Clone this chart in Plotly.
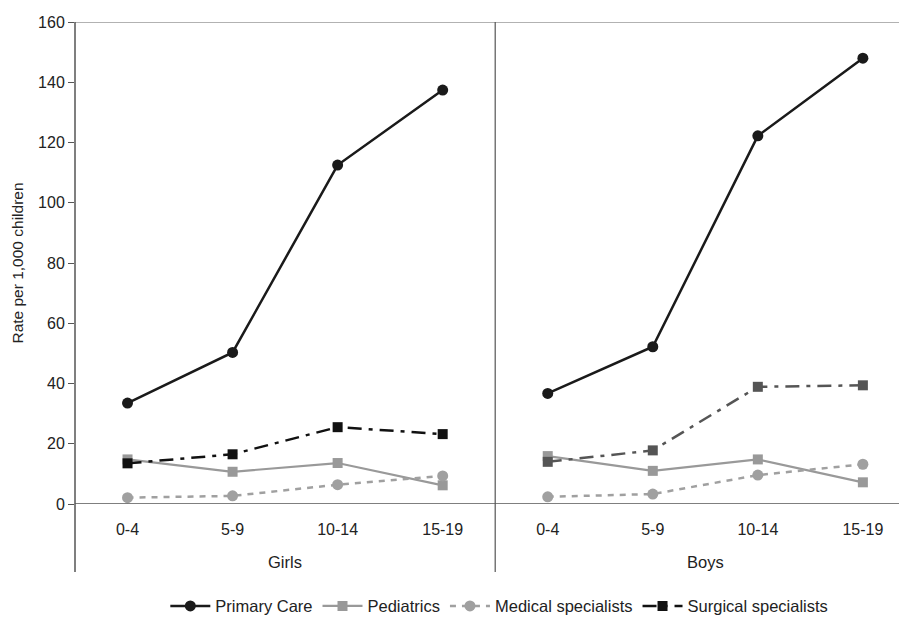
import plotly.graph_objects as go

age_groups = ["0-4", "5-9", "10-14", "15-19"]
sexes = ["Girls", "Boys"]

girls_primary = [33.5, 50.3, 112.5, 137.4]
boys_primary = [36.7, 52.2, 122.2, 148.0]
girls_pediatrics = [14.8, 10.7, 13.6, 6.2]
boys_pediatrics = [15.9, 11.0, 14.8, 7.2]
girls_medical = [2.1, 2.7, 6.4, 9.3]
boys_medical = [2.4, 3.3, 9.6, 13.2]
girls_surgical = [13.5, 16.5, 25.5, 23.2]
boys_surgical = [14.0, 17.8, 38.9, 39.4]

series = [
    ("Primary Care", girls_primary, boys_primary,
     dict(color="#1a1a1a", width=2.5), dict(symbol="circle", size=11, color="#1a1a1a"), "#1a1a1a"),
    ("Pediatrics", girls_pediatrics, boys_pediatrics,
     dict(color="#999999", width=2.2), dict(symbol="square", size=10, color="#999999"), "#999999"),
    ("Medical specialists", girls_medical, boys_medical,
     dict(color="#a0a0a0", width=2.5, dash="6px,6px"), dict(symbol="circle", size=11, color="#a0a0a0"), "#a0a0a0"),
    ("Surgical specialists", girls_surgical, boys_surgical,
     dict(color="#111111", width=2.5, dash="14px,7px,4px,7px"), dict(symbol="square", size=10, color="#111111"), "#555555"),
]

xg = list(range(len(age_groups)))
xb = [i + len(age_groups) for i in range(len(age_groups))]

fig = go.Figure()
for name, g, b, line, marker, boys_color in series:
    fig.add_trace(go.Scatter(x=xg, y=g, mode="lines+markers", name=name,
                             legendgroup=name, line=line, marker=marker))
    bl = dict(line)
    bl["color"] = boys_color
    bm = dict(marker)
    bm["color"] = boys_color
    fig.add_trace(go.Scatter(x=xb, y=b, mode="lines+markers", name=name,
                             legendgroup=name, showlegend=False, line=bl, marker=bm))

axis_col = "#555555"
font = "Liberation Sans, Arial, sans-serif"
fs = 16

fig.update_layout(
    width=899, height=610,
    margin=dict(l=67, r=0, t=14, b=114, autoexpand=False),
    paper_bgcolor="white", plot_bgcolor="white",
    font=dict(family=font, size=fs, color="#222222"),
    showlegend=True,
    legend=dict(orientation="h", x=0.51, xanchor="center", y=-0.212, yanchor="middle",
                font=dict(size=16.5, color="#222222"), itemwidth=40, tracegroupgap=0,
                bgcolor="rgba(0,0,0,0)"),
    xaxis=dict(
        range=[-0.5, 7.42], tickmode="array", tickvals=xg + xb,
        ticktext=age_groups + age_groups, showgrid=False, zeroline=False,
        showline=False, ticks="outside", ticklen=11, tickcolor="rgba(0,0,0,0)",
        tickfont=dict(size=fs, color="#222222"), automargin=False,
    ),
    yaxis=dict(
        range=[0, 160], tickmode="array", tickvals=list(range(0, 161, 20)),
        showgrid=False, zeroline=False, showline=False,
        ticks="outside", ticklen=6, tickcolor=axis_col,
        tickfont=dict(size=fs, color="#222222"), automargin=False,
        title=dict(text="Rate per 1,000 children", font=dict(size=15.5, color="#222222"), standoff=10),
    ),
)

# frame lines
fig.add_shape(type="line", xref="paper", yref="y", x0=0, x1=1, y0=160, y1=160,
              line=dict(color="#999999", width=1.5))
fig.add_shape(type="line", xref="paper", yref="y", x0=0, x1=1, y0=0, y1=0,
              line=dict(color=axis_col, width=1.5))
fig.add_shape(type="line", xref="paper", yref="paper", x0=0, x1=0, y0=1, y1=-0.141,
              line=dict(color=axis_col, width=1.5))
fig.add_shape(type="line", xref="x", yref="paper", x0=3.5, x1=3.5, y0=1, y1=-0.141,
              line=dict(color=axis_col, width=1.2))

for i, s in enumerate(sexes):
    fig.add_annotation(x=1.5 + 4 * i, y=-0.12, xref="x", yref="paper", text=s,
                       showarrow=False, font=dict(size=16.5, color="#222222"),
                       yanchor="middle")

fig.write_html("out.html")
